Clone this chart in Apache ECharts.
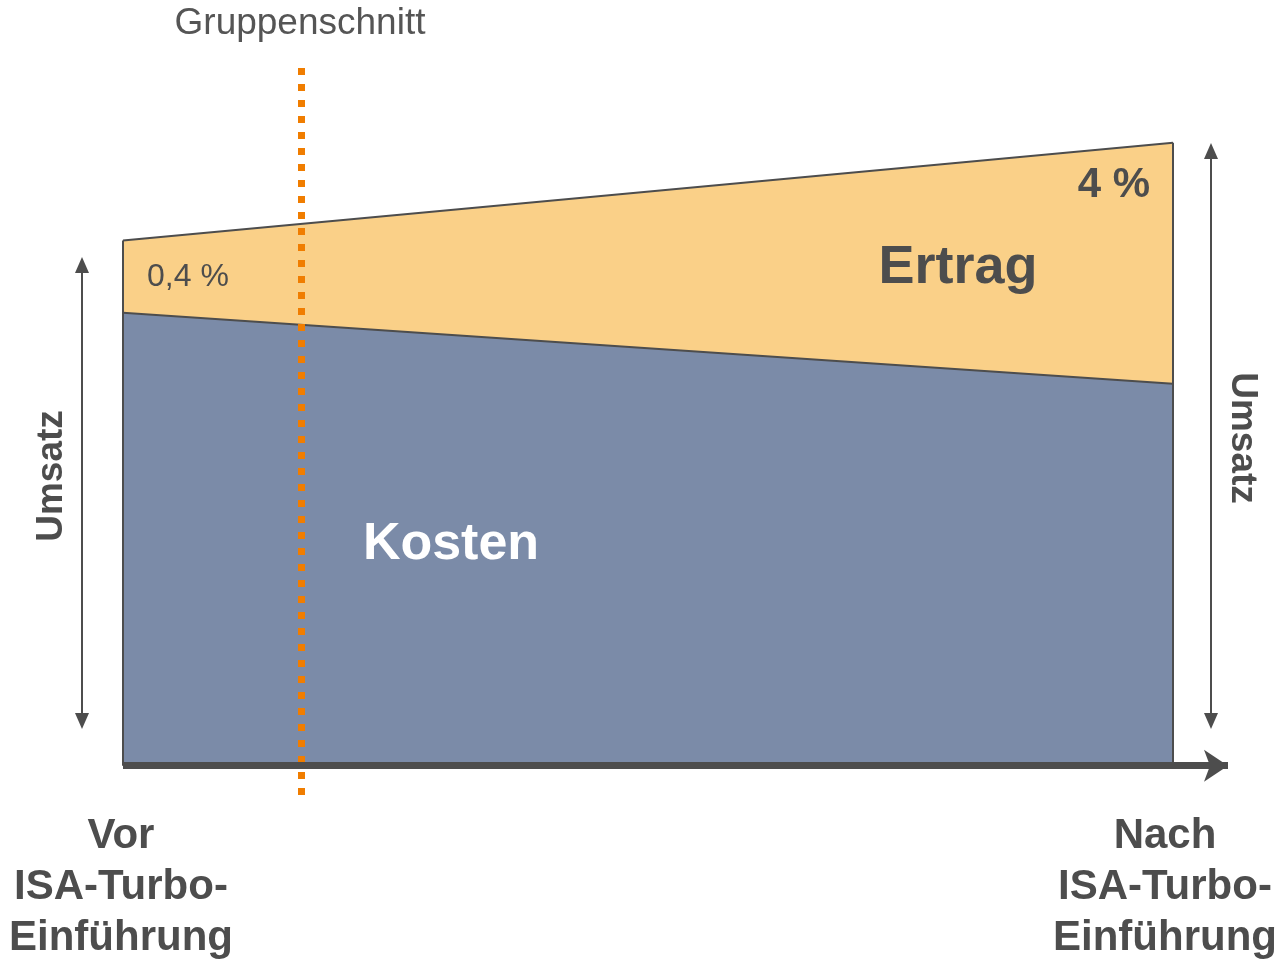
<!DOCTYPE html>
<html>
<head>
<meta charset="utf-8">
<script src="https://cdn.jsdelivr.net/npm/echarts@6/dist/echarts.min.js"></script>
<style>html,body{margin:0;padding:0;background:#fff}#c{width:1277px;height:960px}</style>
</head>
<body>
<div id="c"></div>
<script>
// Data (relative units, Umsatz "Nach" = 100)
var positions = [0, 1];               // Vor / Nach
var umsatz = [84.3, 100];             // top of Ertrag (total)
var kosten = [72.7, 61.3];            // top of Kosten
var gruppenschnitt = 0.172;           // position of dotted line
var labels = { vor: 'Vor\nISA-Turbo-\nEinführung', nach: 'Nach\nISA-Turbo-\nEinführung' };
var ertragPct = ['0,4 %', '4 %'];

var FONT = '"Liberation Sans", Arial, sans-serif';
var DARK = '#4d4d4d';

var chart = echarts.init(document.getElementById('c'));

function pts(arr) { return positions.map(function (x, i) { return [x, arr[i]]; }); }

function arrowV(x, y1, y2) {
  return [
    { type: 'line', shape: { x1: x, y1: y1 + 10, x2: x, y2: y2 - 10 }, style: { stroke: DARK, lineWidth: 2 } },
    { type: 'polygon', shape: { points: [[x, y1], [x - 7, y1 + 16], [x + 7, y1 + 16]] }, style: { fill: DARK } },
    { type: 'polygon', shape: { points: [[x, y2], [x - 7, y2 - 16], [x + 7, y2 - 16]] }, style: { fill: DARK } }
  ];
}

var graphics = [].concat(
  arrowV(82, 257, 729),
  arrowV(1211, 143, 729),
  [
    { type: 'text', x: 300, y: 24, style: { text: 'Gruppenschnitt', font: '37px ' + FONT, fill: '#555', align: 'center', verticalAlign: 'middle' } },
    { type: 'text', x: 52, y: 476, rotation: Math.PI / 2, style: { text: 'Umsatz', font: 'bold 37px ' + FONT, fill: DARK, align: 'center', verticalAlign: 'middle' } },
    { type: 'text', x: 1242, y: 438, rotation: -Math.PI / 2, style: { text: 'Umsatz', font: 'bold 37px ' + FONT, fill: DARK, align: 'center', verticalAlign: 'middle' } },
    { type: 'text', x: 147, y: 277, z: 20, style: { text: ertragPct[0], font: '32px ' + FONT, fill: DARK, align: 'left', verticalAlign: 'middle' } },
    { type: 'text', x: 1150, y: 185, z: 20, style: { text: ertragPct[1], font: 'bold 42px ' + FONT, fill: DARK, align: 'right', verticalAlign: 'middle' } },
    { type: 'text', x: 958, y: 268, z: 20, style: { text: 'Ertrag', font: 'bold 54px ' + FONT, fill: DARK, align: 'center', verticalAlign: 'middle' } },
    { type: 'text', x: 451, y: 545, z: 20, style: { text: 'Kosten', font: 'bold 52px ' + FONT, fill: '#fff', align: 'center', verticalAlign: 'middle' } },
    { type: 'text', x: 121, y: 887, style: { text: labels.vor, font: 'bold 42px ' + FONT, fill: DARK, align: 'center', verticalAlign: 'middle', lineHeight: 51 } },
    { type: 'text', x: 1165, y: 887, style: { text: labels.nach, font: 'bold 42px ' + FONT, fill: DARK, align: 'center', verticalAlign: 'middle', lineHeight: 51 } }
  ]
);

chart.setOption({
  animation: false,
  grid: { left: 123, right: 49, top: 68, bottom: 157 },
  xAxis: {
    type: 'value', min: 0, max: 1.0524, z: 10,
    axisLine: { show: true, onZero: true, symbol: ['none', 'arrow'], symbolSize: [24, 24], symbolOffset: [0, 0], lineStyle: { color: DARK, width: 7, cap: 'butt' } },
    axisTick: { show: false }, axisLabel: { show: false }, splitLine: { show: false }
  },
  yAxis: {
    type: 'value', min: -6, max: 112, show: false, splitLine: { show: false }
  },
  series: [
    {
      name: 'Ertrag', type: 'line', data: pts(umsatz), symbol: 'none', z: 2,
      lineStyle: { color: DARK, width: 2 },
      areaStyle: { color: '#fad088', opacity: 1, origin: 0 },
      markLine: {
        silent: true, symbol: 'none', label: { show: false },
        lineStyle: { color: DARK, width: 2, type: 'solid' },
        data: positions.map(function (x, i) { return [{ coord: [x, 0] }, { coord: [x, umsatz[i]] }]; })
      }
    },
    {
      name: 'Kosten', type: 'line', data: pts(kosten), symbol: 'none', z: 3,
      lineStyle: { color: DARK, width: 2 },
      areaStyle: { color: '#7b8ba8', opacity: 1, origin: 0 },
      markLine: {
        silent: true, symbol: 'none', label: { show: false },
        lineStyle: { color: '#f07d00', width: 7, type: [7, 9], dashOffset: 8, cap: 'butt' },
        data: [{ xAxis: gruppenschnitt }]
      }
    }
  ],
  graphic: graphics
});
</script>
</body>
</html>
